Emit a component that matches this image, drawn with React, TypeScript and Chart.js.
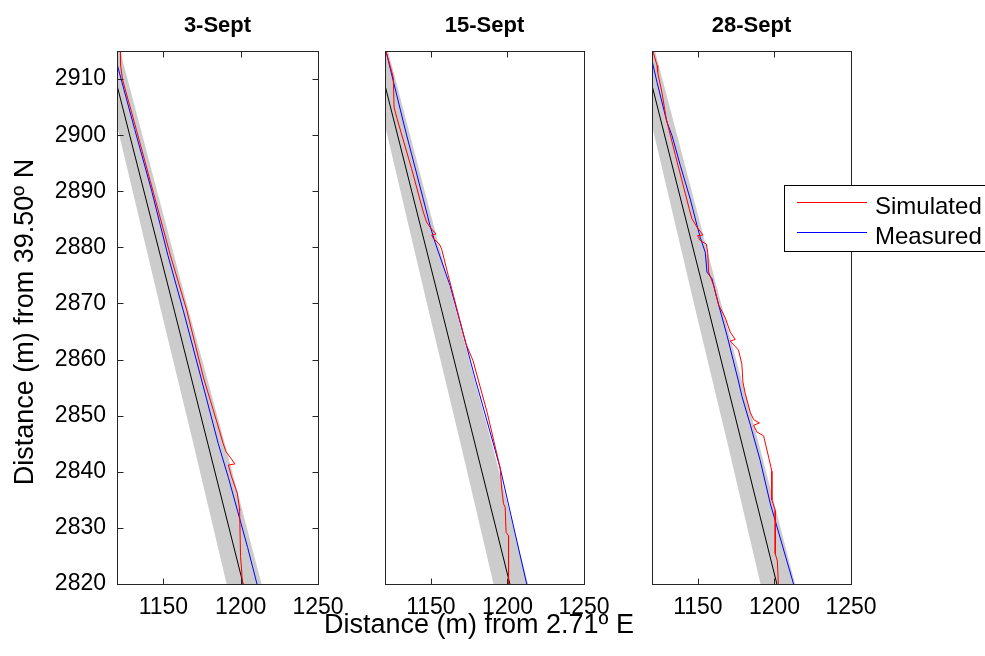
import React, { useEffect, useRef } from 'react';
import { Chart, registerables } from 'chart.js';

Chart.register(...registerables);

const W = 985;
const H = 656;
const FONT = "'Liberation Sans', Arial, Helvetica, sans-serif";

// ---- text / ticks ----
const panelTitles = ['3-Sept', '15-Sept', '28-Sept'];
const xTicks = [1150, 1200, 1250];
const yTicks = [2820, 2830, 2840, 2850, 2860, 2870, 2880, 2890, 2900, 2910];
const xMin = 1120;
const xMax = 1250;
const yMin = 2820;
const yMax = 2915;
const xAxisLabel = 'Distance (m) from 2.71º E';
const yAxisLabel = 'Distance (m) from 39.50º N';
const legendLabels = ['Simulated', 'Measured'];

// ---- shared reference band (grey) : left edge down, right edge up ----
const bandX = [1106.7, 1120, 1148.5, 1169.4, 1190.9, 1213.5, 1189.8, 1166.3, 1122, 1120.1];
const bandY = [2917, 2901.7, 2868.7, 2845, 2820, 2820, 2845, 2868.8, 2915, 2917];

// ---- shared initial shoreline (black) ----
const initX = [1112.5, 1157.3, 1202.5];
const initY = [2917, 2868.5, 2819];

// ---- 3-Sept ----
const meas3X = [1117.5, 1120, 1131.5, 1142.5, 1153, 1162.9, 1174.2, 1185.5, 1192, 1198, 1204.5, 1211];
const meas3Y = [2915.3, 2912.7, 2901, 2890, 2878.5, 2868.7, 2856.9, 2845, 2839, 2833, 2826.5, 2819.5];
const sim3X = [1122.2, 1122.3, 1123.5, 1132.5, 1143.5, 1154.5, 1165.1, 1175.8, 1185, 1188.7, 1190.5, 1196.3, 1192, 1194.1, 1197.8, 1199.2, 1199.3, 1199.9, 1200.6, 1201.2];
const sim3Y = [2915.5, 2912.5, 2910, 2901, 2889.8, 2878.6, 2868.8, 2856.9, 2848.5, 2845, 2843.6, 2841.4, 2841.2, 2839.1, 2836.2, 2833.5, 2833, 2824.9, 2822.5, 2819.5];

// ---- 15-Sept ----
const meas15X = [1120.3, 1120.7, 1133.1, 1145, 1149.4, 1152.7, 1162.5, 1172.9, 1178.2, 1195.2, 1213];
const meas15Y = [2915.5, 2914.9, 2901.1, 2888.6, 2883.9, 2880.9, 2873.2, 2862.8, 2857.3, 2840.7, 2819.5];
const sim15X = [1119.5, 1120.7, 1125.4, 1125.9, 1127.6, 1137.4, 1145, 1147.2, 1149.4, 1153.3, 1150.5, 1151.5, 1155.5, 1157, 1161.3, 1172.9, 1177.5, 1186.8, 1195.2, 1196.3, 1197.4, 1198.5, 1199.1, 1200.7, 1200.7];
const sim15Y = [2916, 2914.9, 2910.3, 2905, 2903.2, 2894, 2886.3, 2884.5, 2883.6, 2882.4, 2882.2, 2881.6, 2880.6, 2879.7, 2875, 2862.8, 2859.8, 2850.5, 2840.7, 2836.9, 2834.3, 2833.7, 2829.2, 2828.6, 2819.5];

// ---- 28-Sept ----
const meas28X = [1118, 1120, 1123.3, 1129.8, 1133.1, 1138.5, 1145, 1149.4, 1151.5, 1154.8, 1155.9, 1159.2, 1162.4, 1169, 1176.6, 1178.8, 1184.3, 1190.7, 1197.3, 1213];
const meas28Y = [2915.5, 2913.3, 2909.4, 2902.3, 2899.9, 2894.6, 2888.6, 2883.9, 2881.8, 2879.1, 2875.6, 2874.4, 2870.9, 2864.3, 2856, 2853.4, 2848.3, 2842, 2834.3, 2819.5];
const sim28X = [1120.2, 1120.7, 1123.3, 1123.7, 1126.5, 1129.3, 1135.3, 1144.3, 1146.1, 1149.4, 1153.3, 1149.8, 1151.5, 1155.5, 1156.4, 1157, 1160.3, 1163.6, 1167.8, 1171.1, 1174.4, 1171.1, 1176.5, 1178.7, 1179.4, 1180.8, 1184.2, 1186.4, 1190.2, 1186.4, 1188.5, 1192.9, 1196.2, 1198.3, 1198.3, 1200.5, 1200.5, 1201.9, 1202.6];
const sim28Y = [2916, 2914.9, 2912.4, 2911.2, 2907.6, 2902.9, 2896.4, 2886.9, 2885.1, 2883.6, 2882.2, 2882.1, 2881.2, 2880.6, 2879.1, 2875.6, 2873.2, 2869.7, 2867.5, 2864.9, 2863.6, 2863.3, 2861.7, 2859.2, 2856, 2854.1, 2850.6, 2849.3, 2848.7, 2848.3, 2847.1, 2846.4, 2842.6, 2840.1, 2835, 2833.1, 2825.4, 2824.1, 2819.5];

const simX = [sim3X, sim15X, sim28X];
const simY = [sim3Y, sim15Y, sim28Y];
const measX = [meas3X, meas15X, meas28X];
const measY = [meas3Y, meas15Y, meas28Y];

// ---- layout (pixel frame of each axes box) ----
const boxLeft = [117, 385, 652];
const boxRight = [318, 584, 851];
const boxTop = 51;
const boxBottom = 584;

const pts = (xs: number[], ys: number[]) => xs.map((x, i) => ({ x, y: ys[i] }));

function makePlugin(idx: number) {
  return {
    id: 'frame' + idx,
    afterDraw(chart: any) {
      const { ctx, chartArea: a, scales } = chart;
      ctx.save();
      ctx.strokeStyle = '#262626';
      ctx.lineWidth = 1;
      ctx.strokeRect(a.left + 0.5, a.top + 0.5, a.right - a.left, a.bottom - a.top);
      const tl = 6;
      ctx.beginPath();
      for (const v of xTicks) {
        const px = Math.round(scales.x.getPixelForValue(v)) + 0.5;
        ctx.moveTo(px, a.bottom + 0.5);
        ctx.lineTo(px, a.bottom + 0.5 - tl);
        ctx.moveTo(px, a.top + 0.5);
        ctx.lineTo(px, a.top + 0.5 + tl);
      }
      if (idx === 0) {
        for (const v of yTicks) {
          const py = Math.round(scales.y.getPixelForValue(v)) + 0.5;
          ctx.moveTo(a.left + 0.5, py);
          ctx.lineTo(a.left + 0.5 + tl, py);
          ctx.moveTo(a.right + 0.5, py);
          ctx.lineTo(a.right + 0.5 - tl, py);
        }
      }
      ctx.stroke();

      ctx.fillStyle = '#000';
      ctx.textBaseline = 'alphabetic';
      ctx.textAlign = 'center';
      ctx.font = `bold 22px ${FONT}`;
      ctx.fillText(panelTitles[idx], (a.left + a.right) / 2, 32);

      if (idx === 0) {
        ctx.save();
        ctx.font = `27px ${FONT}`;
        ctx.translate(33, 322);
        ctx.rotate(-Math.PI / 2);
        ctx.fillText(yAxisLabel, 0, 0);
        ctx.restore();
      }
      if (idx === 1) {
        ctx.font = `27px ${FONT}`;
        ctx.fillText(xAxisLabel, 479, 633);
      }
      if (idx === 2) {
        ctx.fillStyle = '#fff';
        ctx.fillRect(784.5, 185.5, 220, 66);
        ctx.strokeStyle = '#000';
        ctx.strokeRect(784.5, 185.5, 220, 66);
        const colors = ['#ff0000', '#0000ff'];
        const ys = [202.5, 232.5];
        for (let i = 0; i < 2; i++) {
          ctx.strokeStyle = colors[i];
          ctx.beginPath();
          ctx.moveTo(797, ys[i]);
          ctx.lineTo(867, ys[i]);
          ctx.stroke();
          ctx.fillStyle = '#000';
          ctx.textAlign = 'left';
          ctx.font = `24px ${FONT}`;
          ctx.fillText(legendLabels[i], 875, ys[i] + 11.5);
        }
      }
      ctx.restore();
    },
  };
}

function Panel({ idx }: { idx: number }) {
  const ref = useRef<HTMLCanvasElement>(null);
  useEffect(() => {
    if (!ref.current) return;
    const L = boxLeft[idx];
    const R = boxRight[idx];
    const chart = new Chart(ref.current, {
      type: 'line',
      data: {
        datasets: [
          { label: legendLabels[0], data: pts(simX[idx], simY[idx]), borderColor: '#ff0000', borderWidth: 1, pointRadius: 0, fill: false, tension: 0, clip: 0 },
          { label: legendLabels[1], data: pts(measX[idx], measY[idx]), borderColor: '#0000ff', borderWidth: 1, pointRadius: 0, fill: false, tension: 0, clip: 0 },
          { label: 'initial', data: pts(initX, initY), borderColor: '#000000', borderWidth: 1, pointRadius: 0, fill: false, tension: 0, clip: 0 },
          { label: 'band', data: pts(bandX, bandY), borderColor: 'rgba(0,0,0,0)', borderWidth: 1, backgroundColor: '#cccccc', pointRadius: 0, fill: 'shape', tension: 0, clip: 0 },
        ],
      },
      options: {
        responsive: false,
        maintainAspectRatio: false,
        animation: false,
        events: [],
        layout: { padding: { left: 0, right: W - R, top: boxTop, bottom: 0 } },
        plugins: { legend: { display: false }, tooltip: { enabled: false }, title: { display: false } },
        scales: {
          x: {
            type: 'linear',
            min: xMin,
            max: xMax,
            grid: { display: false },
            border: { display: false },
            ticks: { color: '#000', font: { family: FONT, size: 23 }, padding: 2, maxRotation: 0, autoSkip: false, callback: (v: any) => String(v) },
            afterBuildTicks: (s: any) => { s.ticks = xTicks.map((v) => ({ value: v })); },
            afterFit: (s: any) => { s.height = H - boxBottom; },
          },
          y: {
            type: 'linear',
            min: yMin,
            max: yMax,
            grid: { display: false },
            border: { display: false },
            ticks: { display: idx === 0, color: '#000', font: { family: FONT, size: 23 }, padding: 3, autoSkip: false, callback: (v: any) => String(v) },
            afterBuildTicks: (s: any) => { s.ticks = yTicks.map((v) => ({ value: v })); },
            afterFit: (s: any) => { s.width = L; },
          },
        },
      },
      plugins: [makePlugin(idx)],
    } as any);
    return () => chart.destroy();
  }, [idx]);
  return (
    <canvas
      ref={ref}
      width={W}
      height={H}
      style={{ position: 'absolute', left: 0, top: 0, width: W, height: H }}
    />
  );
}

export default function App() {
  useEffect(() => {
    document.body.style.margin = '0';
  }, []);
  return (
    <div style={{ position: 'relative', width: W, height: H, overflow: 'hidden', background: '#fff' }}>
      <Panel idx={0} />
      <Panel idx={1} />
      <Panel idx={2} />
    </div>
  );
}
